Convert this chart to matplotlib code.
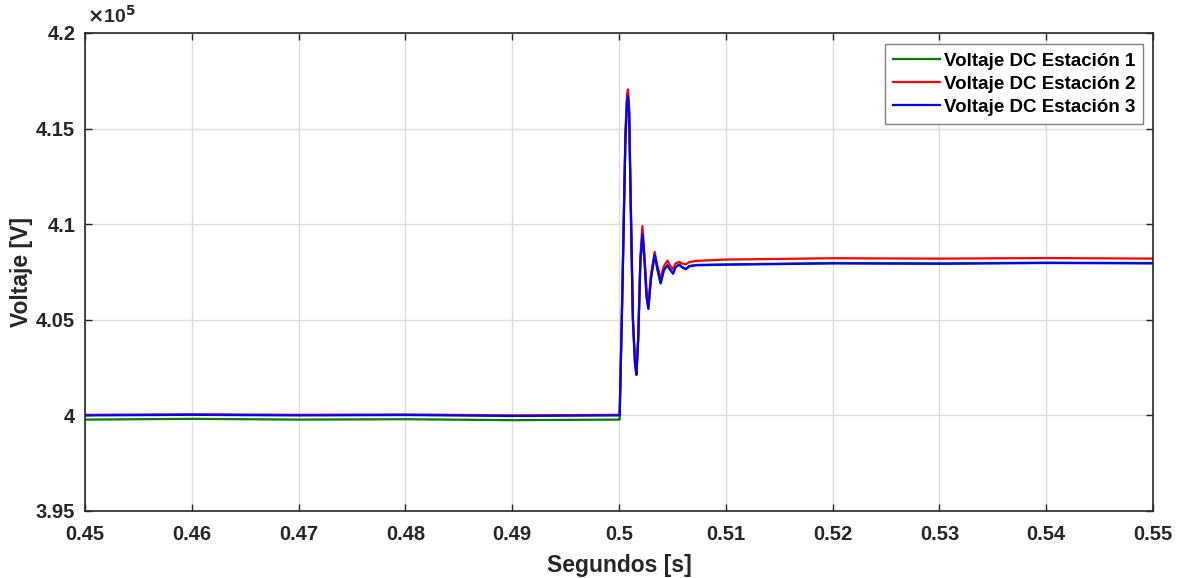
import numpy as np
import matplotlib.pyplot as plt
from matplotlib.ticker import FuncFormatter, MultipleLocator

plt.rcParams['font.family'] = ['Liberation Sans', 'DejaVu Sans']
plt.rcParams['font.weight'] = 'bold'

scale = 1e5  # values below are in units of 1e5 V

# Estacion 1 (green)
t1 = [0.45, 0.46, 0.47, 0.48, 0.49, 0.5000, 0.50006, 0.5003, 0.5006, 0.50075, 0.50084,
      0.50095, 0.5011, 0.5013, 0.5015, 0.50163, 0.5018, 0.5020, 0.50219, 0.5024, 0.50258,
      0.50275, 0.5030, 0.50334, 0.5036, 0.5039, 0.5042, 0.50453, 0.5048, 0.50506, 0.5053,
      0.50563, 0.5059, 0.50625, 0.5066, 0.5072, 0.51, 0.52, 0.53, 0.54, 0.55]
v1 = [3.9978, 3.9982, 3.9978, 3.9980, 3.9975, 3.9978, 3.9978, 4.060, 4.145, 4.164, 4.1672,
      4.158, 4.110, 4.050, 4.027, 4.0212, 4.040, 4.080, 4.0950, 4.080, 4.062,
      4.0560, 4.072, 4.0842, 4.0765, 4.0693, 4.0762, 4.0786, 4.0763, 4.0743, 4.0777,
      4.0790, 4.0777, 4.0766, 4.0782, 4.0787, 4.0790, 4.0797, 4.0795, 4.0799, 4.0797]

# Estacion 2 (red)
t2 = [0.45, 0.46, 0.47, 0.48, 0.49, 0.5000, 0.50006, 0.5003, 0.5006, 0.50075, 0.50084,
      0.50095, 0.5011, 0.5013, 0.5015, 0.50163, 0.5018, 0.5020, 0.50219, 0.5024, 0.50258,
      0.50275, 0.5030, 0.50334, 0.5036, 0.5039, 0.5042, 0.50453, 0.5048, 0.50506, 0.5053,
      0.50563, 0.5059, 0.50625, 0.5066, 0.5072, 0.51, 0.52, 0.53, 0.54, 0.55]
v2 = [4.0003, 4.0006, 4.0003, 4.0005, 4.0000, 4.0003, 4.0003, 4.062, 4.148, 4.168, 4.1705,
      4.161, 4.112, 4.052, 4.028, 4.0220, 4.041, 4.083, 4.0990, 4.083, 4.065,
      4.0585, 4.074, 4.0855, 4.0780, 4.0716, 4.0780, 4.0810, 4.0782, 4.0765, 4.0795,
      4.0803, 4.0795, 4.0790, 4.0802, 4.0808, 4.0815, 4.0822, 4.0820, 4.0823, 4.0820]

# Estacion 3 (blue)
t3 = [0.45, 0.46, 0.47, 0.48, 0.49, 0.5000, 0.50006, 0.5003, 0.5006, 0.50075, 0.50084,
      0.50095, 0.5011, 0.5013, 0.5015, 0.50163, 0.5018, 0.5020, 0.50219, 0.5024, 0.50258,
      0.50275, 0.5030, 0.50334, 0.5036, 0.5039, 0.5042, 0.50453, 0.5048, 0.50506, 0.5053,
      0.50563, 0.5059, 0.50625, 0.5066, 0.5072, 0.51, 0.52, 0.53, 0.54, 0.55]
v3 = [4.0000, 4.0003, 4.0000, 4.0002, 3.9997, 4.0000, 4.0000, 4.060, 4.145, 4.164, 4.1672,
      4.158, 4.110, 4.050, 4.027, 4.0212, 4.040, 4.080, 4.0948, 4.080, 4.062,
      4.0557, 4.072, 4.0840, 4.0763, 4.0690, 4.0760, 4.0784, 4.0761, 4.0741, 4.0775,
      4.0788, 4.0775, 4.0764, 4.0780, 4.0785, 4.0788, 4.0795, 4.0793, 4.0797, 4.0795]

labels = ['Voltaje DC Estación 1', 'Voltaje DC Estación 2', 'Voltaje DC Estación 3']
colors = ['#008000', '#ff0000', '#0000ff']

fig = plt.figure(figsize=(11.83, 5.78), dpi=100)
ax = fig.add_axes([85/1183, 1-511/578, (1153-85)/1183, (511-33)/578])

for t, v, c, lab in zip([t1, t2, t3], [v1, v2, v3], colors, labels):
    ax.plot(t, np.array(v)*scale, color=c, lw=1.6, label=lab)

ax.set_xlim(0.45, 0.55)
ax.set_ylim(3.95e5, 4.2e5)
ax.xaxis.set_major_locator(MultipleLocator(0.01))
ax.yaxis.set_major_locator(MultipleLocator(0.05e5))
ax.xaxis.set_major_formatter(FuncFormatter(lambda x, p: '%g' % round(x, 4)))
ax.yaxis.set_major_formatter(FuncFormatter(lambda y, p: '%g' % round(y/scale, 4)))
ax.grid(True, color='#dcdcdc', lw=1)
ax.set_axisbelow(True)
ax.tick_params(direction='in', length=5, width=1, labelsize=14.5, top=True, right=True,
               color='#262626', labelcolor='#262626')
ax.tick_params(axis='x', pad=10)
ax.tick_params(axis='y', pad=7)
for s in ax.spines.values():
    s.set_color('#262626')
    s.set_linewidth(1.2)

ax.set_xlabel('Segundos [s]', fontsize=16.5, fontweight='bold', color='#262626', labelpad=7)
ax.set_ylabel('Voltaje [V]', fontsize=16.5, fontweight='bold', color='#262626', labelpad=2)
ax.text(0.002, 1.012, r'$\times$10$^5$', transform=ax.transAxes, fontsize=14,
        color='#262626', ha='left', va='bottom')

leg = ax.legend(loc='upper right', bbox_to_anchor=(0.991, 0.976), fontsize=13.5,
                fancybox=False, framealpha=1, edgecolor='#808080',
                handlelength=2.5, handletextpad=0.2, borderpad=0.45, labelspacing=0.3,
                borderaxespad=0)
leg.get_frame().set_linewidth(1)
for txt in leg.get_texts():
    txt.set_fontweight('bold')

fig.savefig('out.png', dpi=100)
